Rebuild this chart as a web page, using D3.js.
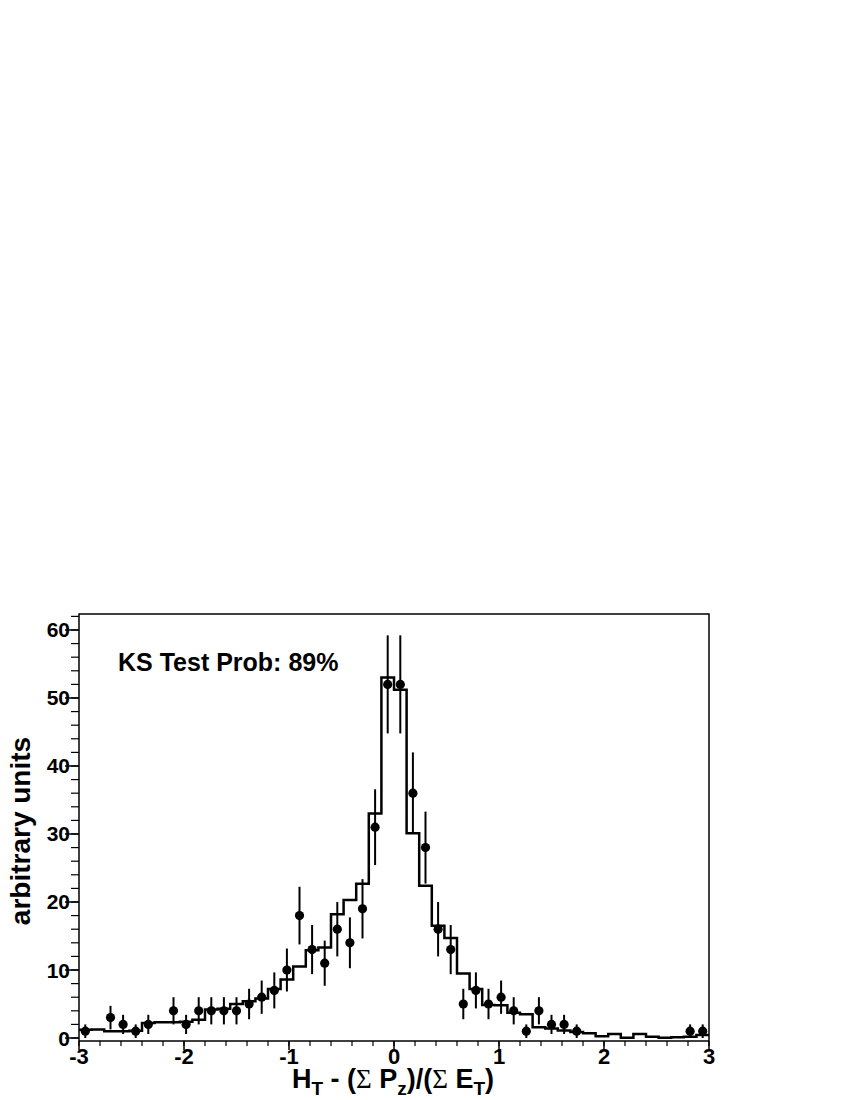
<!DOCTYPE html>
<html lang="en">
<head>
<meta charset="UTF-8">
<title>KS test histogram</title>
<script src="https://d3js.org/d3.v7.min.js"></script>
<style>
  body { margin: 0; background: #fff; }
  text { font-family: "Liberation Sans", Arial, sans-serif; font-weight: bold; }
</style>
</head>
<body>
<div id="chart"></div>
<script>
// bin centres (width 0.12) on the x axis
const binWidth = 0.12;
const binCenters = [-2.94, -2.82, -2.70, -2.58, -2.46, -2.34, -2.22, -2.10, -1.98, -1.86,
  -1.74, -1.62, -1.50, -1.38, -1.26, -1.14, -1.02, -0.90, -0.78, -0.66,
  -0.54, -0.42, -0.30, -0.18, -0.06, 0.06, 0.18, 0.30, 0.42, 0.54,
  0.66, 0.78, 0.90, 1.02, 1.14, 1.26, 1.38, 1.50, 1.62, 1.74,
  1.86, 1.98, 2.10, 2.22, 2.34, 2.46, 2.58, 2.70, 2.82, 2.94];

// data counts (null = empty bin, not drawn)
const dataCounts = [1, null, 3, 2, 1, 2, null, 4, 2, 4,
  4, 4, 4, 5, 6, 7, 10, 18, 13, 11,
  16, 14, 19, 31, 52, 52, 36, 28, 16, 13,
  5, 7, 5, 6, 4, 1, 4, 2, 2, 1,
  null, null, null, null, null, null, null, null, 1, 1];

// errors on the data points
const dataErrors = [1, null, 1.73, 1.41, 1, 1.41, null, 2, 1.41, 2,
  2, 2, 2, 2.24, 2.45, 2.65, 3.16, 4.24, 3.61, 3.32,
  4, 3.74, 4.36, 5.57, 7.21, 7.21, 6, 5.29, 4, 3.61,
  2.24, 2.65, 2.24, 2.45, 2, 1, 2, 1.41, 1.41, 1,
  null, null, null, null, null, null, null, null, 1, 1];

// simulation histogram
const mcValues = [1.2, 1.25, 1.0, 1.0, 1.05, 2.2, 2.3, 2.3, 2.4, 2.7,
  4.2, 4.3, 5.0, 5.4, 5.8, 7.2, 8.6, 10.5, 12.9, 13.3,
  18.2, 20.3, 22.7, 33.0, 53.0, 51.2, 30.1, 22.4, 16.5, 14.7,
  9.5, 7.2, 4.85, 4.8, 3.7, 3.5, 1.6, 1.4, 1.1, 0.9,
  0.7, 0.25, 0.6, 0.05, 0.6, 0.2, 0.05, 0.1, 0.2, 0.45];

const xTicks = [-3, -2, -1, 0, 1, 2, 3];
const xMinor = d3.range(-3, 3.001, 0.2);
const yTicks = [0, 10, 20, 30, 40, 50, 60];
const yMinor = d3.range(0, 62.01, 2);

const W = 850, H = 1100;
const mLeft = 79, mRight = 709, mTop = 614, mBottom = 1041;

const svg = d3.select("#chart").append("svg")
  .attr("width", W).attr("height", H);

const x = d3.scaleLinear().domain([-3, 3]).range([mLeft, mRight]);
const y = d3.scaleLinear().domain([-0.44, 62.35]).range([mBottom, mTop]);

// histogram (step line)
const steps = binCenters.map((c, i) => [c - binWidth / 2, mcValues[i]]);
steps.push([binCenters[binCenters.length - 1] + binWidth / 2, mcValues[mcValues.length - 1]]);
svg.append("path")
  .datum(steps)
  .attr("d", d3.line().x(d => x(d[0])).y(d => y(d[1])).curve(d3.curveStepAfter))
  .attr("fill", "none")
  .attr("stroke", "#000")
  .attr("stroke-width", 2.5);

// data points
const pts = binCenters.map((c, i) => ({ c: c, v: dataCounts[i], e: dataErrors[i] }))
  .filter(d => d.v !== null);

svg.selectAll("line.err").data(pts).enter()
  .append("line")
  .attr("class", "err")
  .attr("x1", d => x(d.c)).attr("x2", d => x(d.c))
  .attr("y1", d => y(d.v - d.e)).attr("y2", d => y(d.v + d.e))
  .attr("stroke", "#000").attr("stroke-width", 2);

svg.selectAll("circle").data(pts).enter()
  .append("circle")
  .attr("cx", d => x(d.c)).attr("cy", d => y(d.v))
  .attr("r", 4.6)
  .attr("fill", "#000");

// frame
svg.append("rect")
  .attr("x", mLeft).attr("y", mTop)
  .attr("width", mRight - mLeft).attr("height", mBottom - mTop)
  .attr("fill", "none").attr("stroke", "#000").attr("stroke-width", 1.5);

// x axis ticks (pointing down)
const xAxis = svg.append("g");
xAxis.selectAll("line.minor").data(xMinor).enter()
  .append("line")
  .attr("x1", d => x(d)).attr("x2", d => x(d))
  .attr("y1", mBottom).attr("y2", mBottom + 5)
  .attr("stroke", "#000").attr("stroke-width", 1.2);
xAxis.selectAll("line.major").data(xTicks).enter()
  .append("line")
  .attr("x1", d => x(d)).attr("x2", d => x(d))
  .attr("y1", mBottom).attr("y2", mBottom + 9)
  .attr("stroke", "#000").attr("stroke-width", 1.5);
xAxis.selectAll("text").data(xTicks).enter()
  .append("text")
  .attr("x", d => x(d)).attr("y", 1064)
  .attr("text-anchor", "middle")
  .attr("font-size", "22px")
  .text(d => d);

// y axis ticks (pointing left)
const yAxis = svg.append("g");
yAxis.selectAll("line.minor").data(yMinor).enter()
  .append("line")
  .attr("x1", mLeft - 8).attr("x2", mLeft)
  .attr("y1", d => y(d)).attr("y2", d => y(d))
  .attr("stroke", "#000").attr("stroke-width", 1.2);
yAxis.selectAll("line.major").data(yTicks).enter()
  .append("line")
  .attr("x1", mLeft - 14).attr("x2", mLeft)
  .attr("y1", d => y(d)).attr("y2", d => y(d))
  .attr("stroke", "#000").attr("stroke-width", 1.5);
yAxis.selectAll("text").data(yTicks).enter()
  .append("text")
  .attr("x", 70).attr("y", d => y(d) + 7.5)
  .attr("text-anchor", "end")
  .attr("font-size", "21px")
  .text(d => d);

// axis titles
const xt = svg.append("text")
  .attr("x", 393).attr("y", 1088)
  .attr("text-anchor", "middle")
  .attr("font-size", "27px");
xt.append("tspan").text("H");
xt.append("tspan").attr("dy", 7).attr("font-size", "19px").text("T");
xt.append("tspan").attr("dy", -7).text(" - (");
xt.append("tspan").attr("font-family", "Liberation Serif").attr("font-weight", "normal").text("\u03A3");
xt.append("tspan").text(" P");
xt.append("tspan").attr("dy", 7).attr("font-size", "19px").text("z");
xt.append("tspan").attr("dy", -7).text(")/(");
xt.append("tspan").attr("font-family", "Liberation Serif").attr("font-weight", "normal").text("\u03A3");
xt.append("tspan").text(" E");
xt.append("tspan").attr("dy", 7).attr("font-size", "19px").text("T");
xt.append("tspan").attr("dy", -7).text(")");

svg.append("text")
  .attr("transform", "translate(30,831) rotate(-90)")
  .attr("text-anchor", "middle")
  .attr("font-size", "28px")
  .text("arbitrary units");

// KS label
svg.append("text")
  .attr("x", 118).attr("y", 671)
  .attr("font-size", "25px")
  .text("KS Test Prob: 89%");
</script>
</body>
</html>
